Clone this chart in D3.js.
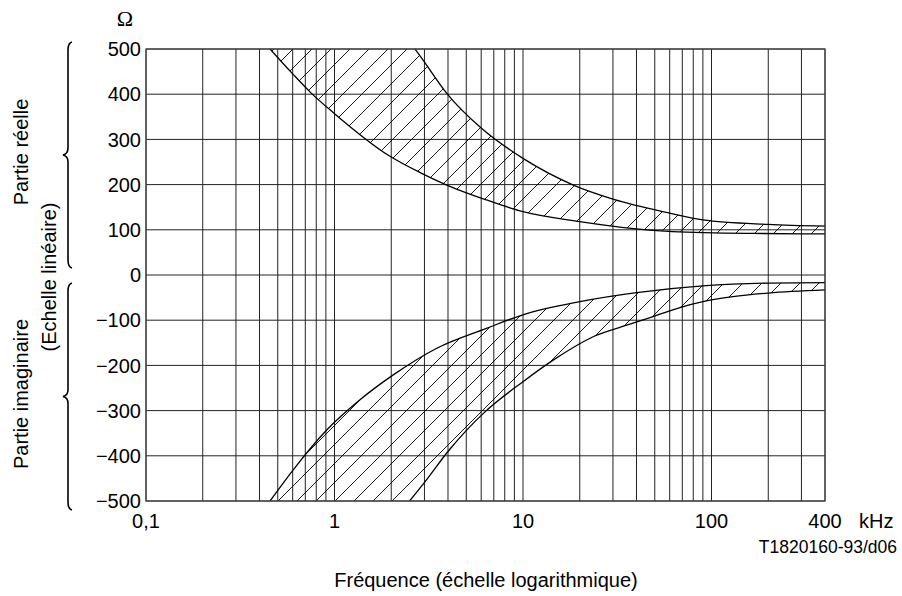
<!DOCTYPE html>
<html><head><meta charset="utf-8">
<script src="https://cdn.jsdelivr.net/npm/d3@7"></script>
<style>
html,body{margin:0;padding:0;background:#fff;}
svg{display:block;}
text{font-family:"Liberation Sans",Arial,sans-serif;fill:#000;}
</style></head>
<body>
<svg id="chart" width="902" height="596"></svg>
<script>
// ---- data (frequency in kHz, impedance in ohms) ----
const gridFreqs = [0.1,0.2,0.3,0.4,0.5,0.6,0.7,0.8,0.9,1,2,3,4,5,6,7,8,9,10,20,30,40,50,60,70,80,90,100,200,300,400];
const xTickValues = [0.1,1,10,100,400];
const xTickLabels = ["0,1","1","10","100","400"];
const yTickValues = [500,400,300,200,100,0,-100,-200,-300,-400,-500];

// real part: lower and upper boundary
const realLowFreq = [0.455,0.6,0.75,1.0,1.93,2.9,3.94,6.4,10,20,40,62,166,400];
const realLowVal  = [500,445,403,357,265,225,199,166,140,118,102,96,92,91];
const realHighFreq = [2.67,2.83,3.94,6.0,10,18.5,30,60,90,200,400];
const realHighVal  = [500,486,402,325,258,199,168,137,122,112,108];

// imaginary part: upper (less negative) and lower boundary
const imagHighFreq = [0.455,0.604,0.909,1.365,2.05,3.49,6.4,10,20,40,90,200,400];
const imagHighVal  = [-500,-431,-343,-276,-221,-162,-118,-88,-59,-39,-24,-18,-17];
const imagLowFreq = [2.5,2.96,4.1,6.2,10,15,24,35.5,49,68,90,130,200,400];
const imagLowVal  = [-500,-462,-385,-305,-236,-184,-135,-111,-92,-72,-59,-48,-40,-33];

const svg = d3.select("#chart");
const x = d3.scaleLog().domain([0.1,400]).range([146,825]);
const y = d3.scaleLinear().domain([-500,500]).range([501,49]);

const zip = (f,v) => f.map((d,i)=>[d,v[i]]);
const line = d3.line().x(d=>x(d[0])).y(d=>y(d[1])).curve(d3.curveMonotoneX);

// hatch pattern
const defs = svg.append("defs");
const pat = defs.append("pattern").attr("id","hatch").attr("patternUnits","userSpaceOnUse")
  .attr("width",19).attr("height",19);
pat.append("path").attr("d","M0,19 L19,0 M-2,2 L2,-2 M17,21 L21,17")
  .attr("stroke","#000").attr("stroke-width",0.9).attr("fill","none");
defs.append("clipPath").attr("id","plotclip").append("rect")
  .attr("x",x(0.1)).attr("y",y(500)).attr("width",x(400)-x(0.1)).attr("height",y(-500)-y(500));

// grid
const g = svg.append("g");
g.selectAll("line.v").data(gridFreqs).join("line").attr("class","v")
  .attr("x1",d=>x(d)).attr("x2",d=>x(d)).attr("y1",y(500)).attr("y2",y(-500))
  .attr("stroke","#222").attr("stroke-width",1);
g.selectAll("line.h").data(yTickValues).join("line").attr("class","h")
  .attr("x1",x(0.1)).attr("x2",x(400)).attr("y1",d=>y(d)).attr("y2",d=>y(d))
  .attr("stroke","#222").attr("stroke-width",1);

// hatched bands
function bandPath(a,b){
  const p1 = line(a);
  const p2 = line(b.slice().reverse()).replace(/^M/,"L");
  return p1 + p2 + "Z";
}
const realLow = zip(realLowFreq,realLowVal), realHigh = zip(realHighFreq,realHighVal);
const imagHigh = zip(imagHighFreq,imagHighVal), imagLow = zip(imagLowFreq,imagLowVal);
const hatchG = svg.append("g").attr("clip-path","url(#plotclip)");
hatchG.append("path").attr("d",bandPath(realLow,realHigh)).attr("fill","url(#hatch)");
hatchG.append("path").attr("d",bandPath(imagHigh,imagLow)).attr("fill","url(#hatch)");

// curves
[realLow,realHigh,imagHigh,imagLow].forEach(s=>{
  hatchG.append("path").attr("d",line(s)).attr("fill","none").attr("stroke","#000").attr("stroke-width",1.3);
});

// frame
svg.append("rect").attr("x",x(0.1)).attr("y",y(500)).attr("width",x(400)-x(0.1)).attr("height",y(-500)-y(500))
  .attr("fill","none").attr("stroke","#444").attr("stroke-width",1.2);

// y tick labels
svg.selectAll("text.yt").data(yTickValues).join("text").attr("class","yt")
  .attr("x",141).attr("y",d=>y(d)).attr("dy","0.36em").attr("text-anchor","end")
  .style("font-size","20px").text(d=>d<0?"\u2212"+Math.abs(d):String(d));

// x tick labels
svg.selectAll("text.xt").data(xTickValues).join("text").attr("class","xt")
  .attr("x",d=>x(d)).attr("y",528).attr("text-anchor","middle")
  .style("font-size","20px").text((d,i)=>xTickLabels[i]);
svg.append("text").attr("x",859).attr("y",528).style("font-size","20px").text("kHz");

// unit
svg.append("text").attr("x",125).attr("y",26).attr("text-anchor","middle")
  .style("font-family","'Liberation Serif',serif").style("font-size","22px").text("\u03A9");

// figure code and axis title
svg.append("text").attr("x",897).attr("y",553).attr("text-anchor","end").style("font-size","17.5px").text("T1820160-93/d06");
svg.append("text").attr("x",486).attr("y",587).attr("text-anchor","middle").style("font-size","20px").text("Fréquence (échelle logarithmique)");

// left labels
function vtext(tx,ty,s){
  svg.append("text").attr("transform",`translate(${tx},${ty}) rotate(-90)`).attr("text-anchor","middle")
    .style("font-size","20px").text(s);
}
vtext(28,152,"Partie réelle");
vtext(56,277,"(Echelle linéaire)");
vtext(28,394,"Partie imaginaire");

// braces
function brace(y0,y1){
  const ym=(y0+y1)/2, xr=72, xs=68, xl=63;
  const d=`M${xr},${y0} Q${xs},${y0+1} ${xs},${y0+8} L${xs},${ym-7} Q${xs},${ym-1} ${xl},${ym} Q${xs},${ym+1} ${xs},${ym+7} L${xs},${y1-8} Q${xs},${y1-1} ${xr},${y1}`;
  svg.append("path").attr("d",d).attr("fill","none").attr("stroke","#000").attr("stroke-width",1.6);
}
brace(y(500)-7, y(0)-7);
brace(y(0)+8, y(-500)+9);
</script>
</body></html>
